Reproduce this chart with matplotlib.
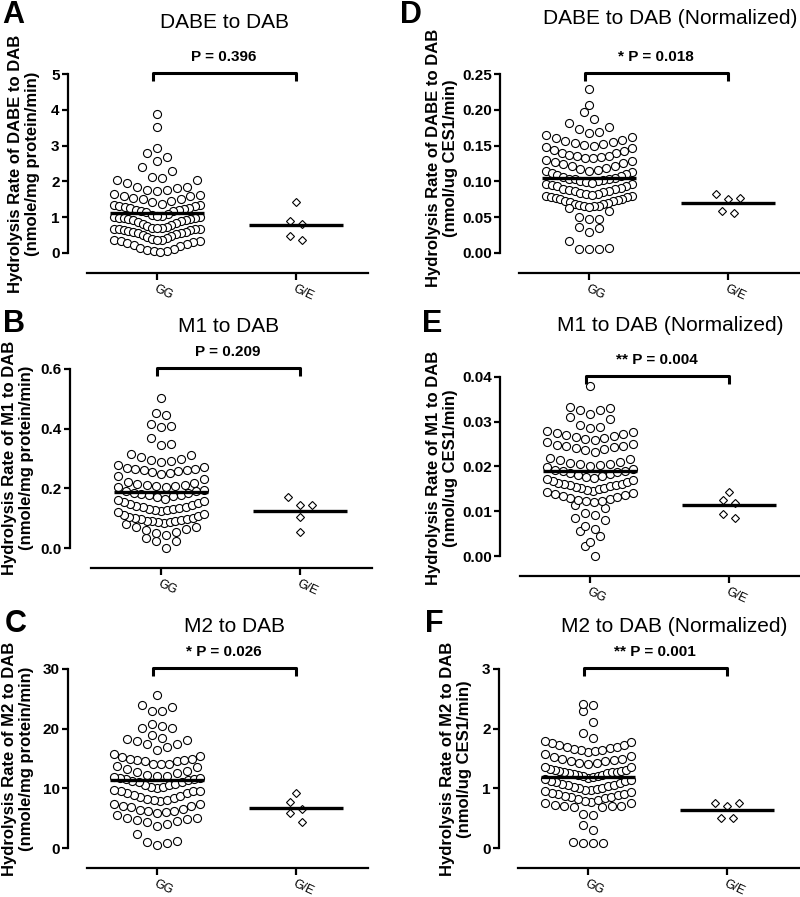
import numpy as np
import matplotlib
matplotlib.use("Agg")
import matplotlib.pyplot as plt

plt.rcParams['font.family'] = ['Liberation Sans', 'DejaVu Sans']

W, H = 800, 897
groups = ["GG", "G/E"]

# --- data ---
dabe_gg = [3.87, 3.52, 2.93, 2.79, 2.67, 2.58, 2.39, 2.29, 2.12, 2.10,
           2.04, 2.04, 1.96, 1.83, 1.83, 1.82, 1.77, 1.76, 1.72, 1.66, 1.63, 1.60, 1.58, 1.55, 1.52, 1.50,
           1.45, 1.42, 1.38, 1.34, 1.33, 1.32, 1.30, 1.28, 1.27, 1.25, 1.23, 1.21,
           1.19, 1.18, 1.16, 1.14, 1.10, 1.06, 1.04, 1.02, 1.01, 1.00, 0.99, 0.98, 0.97, 0.95, 0.95, 0.93, 0.91,
           0.88, 0.87, 0.85, 0.82, 0.78, 0.75, 0.72, 0.71, 0.70, 0.69, 0.68, 0.67, 0.66, 0.66, 0.65, 0.64, 0.62,
           0.59, 0.58, 0.57, 0.55, 0.52, 0.50, 0.48, 0.45, 0.42, 0.40, 0.37, 0.36, 0.35, 0.34, 0.33, 0.31,
           0.28, 0.26, 0.22, 0.19, 0.14, 0.10, 0.08, 0.06, 0.05, 0.03]
dabe_ge = [1.42, 0.88, 0.82, 0.48, 0.36]

m1_gg = [0.000, 0.022, 0.025, 0.035, 0.045,
         0.050, 0.055, 0.060, 0.065, 0.070, 0.072, 0.080,
         0.085, 0.086, 0.088, 0.089, 0.090, 0.092, 0.094, 0.096, 0.098, 0.100, 0.102, 0.105, 0.108, 0.110, 0.115, 0.120,
         0.125, 0.127, 0.129, 0.130, 0.132, 0.134, 0.136, 0.138, 0.140, 0.143, 0.146, 0.150, 0.153, 0.157, 0.162, 0.165,
         0.172, 0.175, 0.176, 0.178, 0.180, 0.183, 0.186, 0.190, 0.192, 0.195,
         0.203, 0.205, 0.207, 0.208, 0.210, 0.212, 0.214, 0.218, 0.222, 0.230,
         0.240, 0.248, 0.252, 0.256, 0.258, 0.260, 0.262, 0.264, 0.266, 0.268, 0.272, 0.278,
         0.288, 0.290, 0.295, 0.300, 0.305, 0.312, 0.315,
         0.345, 0.350, 0.370, 0.405, 0.408, 0.415, 0.447, 0.452, 0.502]
m1_ge = [0.172, 0.145, 0.145, 0.105, 0.052]

m2_gg = [0.5, 0.9, 1.0, 1.2, 2.3,
         3.7, 4.0, 4.3, 4.6, 4.7, 4.9, 5.0, 5.0, 5.6,
         5.8, 6.1, 6.2, 6.2, 6.4, 6.6, 6.9, 7.0, 7.1, 7.3, 7.4,
         7.8, 8.0, 8.0, 8.2, 8.3, 8.6, 8.7, 8.9, 9.2, 9.2, 9.5, 9.6, 9.6, 9.7,
         10.0, 10.2, 10.3, 10.5, 10.6, 10.8, 11.0, 11.1, 11.3, 11.4, 11.5, 11.6, 11.7, 11.8, 11.9, 12.0,
         12.0, 12.3, 12.5, 12.7, 12.9, 13.2, 13.5, 13.7, 14.0, 14.0, 14.1,
         14.6, 14.6, 14.8, 14.8, 14.9, 15.0, 15.3, 15.5, 15.8,
         16.5, 16.9, 17.4, 17.4, 18.0, 18.1, 18.2, 18.5,
         18.9, 20.1, 20.1, 20.5, 20.8,
         22.9, 23.0, 23.7, 24.0, 25.6]
m2_ge = [9.2, 7.7, 6.6, 5.9, 4.4]

dabe_norm_gg = [0.229, 0.207, 0.197, 0.187, 0.182, 0.176, 0.173,
                0.169, 0.167, 0.165, 0.162, 0.160,
                0.158, 0.156, 0.155, 0.153, 0.152, 0.151, 0.150, 0.148, 0.146, 0.144, 0.143,
                0.140, 0.139, 0.137, 0.136, 0.135, 0.134, 0.133, 0.132, 0.130, 0.128, 0.127, 0.126,
                0.124, 0.122, 0.121, 0.119, 0.118, 0.116, 0.115, 0.114, 0.113, 0.112, 0.110, 0.109,
                0.107, 0.106, 0.105, 0.104, 0.104, 0.103, 0.102, 0.101, 0.100, 0.099, 0.098, 0.097, 0.096, 0.095, 0.094, 0.093,
                0.091, 0.090, 0.089, 0.088, 0.087, 0.086, 0.085, 0.084, 0.083, 0.082, 0.081, 0.080, 0.079, 0.078,
                0.078, 0.077, 0.076, 0.075, 0.074, 0.073, 0.072, 0.071, 0.070, 0.069, 0.068, 0.067, 0.066, 0.066, 0.065, 0.064,
                0.063, 0.058, 0.050, 0.048, 0.047, 0.036, 0.035, 0.030, 0.017, 0.007, 0.006, 0.005, 0.005]
dabe_norm_ge = [0.0767, 0.0753, 0.0827, 0.0558, 0.0580]

m1_norm_gg = [0.0000, 0.0023, 0.0032, 0.0045, 0.0055, 0.0060, 0.0068, 0.0080, 0.0085, 0.0092, 0.0095, 0.0108, 0.0115,
              0.0120, 0.0122, 0.0124, 0.0126, 0.0128, 0.0130, 0.0132, 0.0134, 0.0136, 0.0139, 0.0141, 0.0144, 0.0146, 0.0148,
              0.0150, 0.0152, 0.0153, 0.0155, 0.0156, 0.0158, 0.0159, 0.0160, 0.0162, 0.0164, 0.0166, 0.0168, 0.0170, 0.0171,
              0.0175, 0.0177, 0.0179, 0.0181, 0.0183, 0.0185, 0.0187, 0.0189, 0.0191, 0.0193, 0.0195, 0.0198,
              0.0201, 0.0203, 0.0205, 0.0206, 0.0208, 0.0211, 0.0214, 0.0217, 0.0220,
              0.0232, 0.0236, 0.0240, 0.0242, 0.0244, 0.0245, 0.0246, 0.0248, 0.0250, 0.0255, 0.0260,
              0.0262, 0.0264, 0.0266, 0.0268, 0.0270, 0.0272, 0.0275, 0.0278, 0.0280, 0.0286, 0.0289,
              0.0293, 0.0306, 0.0310, 0.0318, 0.0326, 0.0327, 0.0330, 0.0334, 0.0381]
m1_norm_ge = [0.0144, 0.0125, 0.0118, 0.0094, 0.0084]

m2_norm_gg = [0.08, 0.08, 0.09, 0.10, 0.30, 0.39, 0.56, 0.57,
              0.68, 0.69, 0.70, 0.70, 0.71, 0.72, 0.75, 0.75, 0.77, 0.78,
              0.80, 0.82, 0.84, 0.85, 0.86, 0.87, 0.88, 0.90, 0.91, 0.93, 0.94, 0.95,
              0.97, 0.98, 0.99, 1.00, 1.01, 1.02, 1.04, 1.05, 1.06, 1.08, 1.09, 1.10, 1.12, 1.13, 1.14, 1.15,
              1.17, 1.19, 1.20, 1.21, 1.22, 1.23, 1.24, 1.25, 1.26, 1.27, 1.27, 1.28, 1.29, 1.29, 1.30, 1.31,
              1.32, 1.35, 1.36, 1.40, 1.42, 1.43, 1.45, 1.46, 1.48, 1.50, 1.50, 1.53, 1.55, 1.58,
              1.61, 1.62, 1.64, 1.65, 1.66, 1.67, 1.69, 1.70, 1.73, 1.73, 1.76, 1.78, 1.80,
              1.84, 1.93, 2.12, 2.29, 2.40, 2.42]
m2_norm_ge = [0.76, 0.75, 0.71, 0.50, 0.50]

titles = ["DABE to DAB", "M1 to DAB", "M2 to DAB",
          "DABE to DAB (Normalized)", "M1 to DAB (Normalized)", "M2 to DAB (Normalized)"]
ylabels = ["Hydrolysis Rate of DABE to DAB\n(nmole/mg protein/min)",
           "Hydrolysis Rate of M1 to DAB\n(nmole/mg protein/min)",
           "Hydrolysis Rate of M2 to DAB\n(nmole/mg protein/min)",
           "Hydrolysis Rate of DABE to DAB\n(nmol/ug CES1/min)",
           "Hydrolysis Rate of M1 to DAB\n(nmol/ug CES1/min)",
           "Hydrolysis Rate of M2 to DAB\n(nmol/ug CES1/min)"]
p_labels = ["P = 0.396", "P = 0.209", "* P = 0.026", "* P = 0.018", "** P = 0.004", "** P = 0.001"]
letters = ["A", "B", "C", "D", "E", "F"]
yticks = [[0, 1, 2, 3, 4, 5], [0.0, 0.2, 0.4, 0.6], [0, 10, 20, 30],
          [0.00, 0.05, 0.10, 0.15, 0.20, 0.25], [0.00, 0.01, 0.02, 0.03, 0.04], [0, 1, 2, 3]]
ytick_labels = [["0", "1", "2", "3", "4", "5"], ["0.0", "0.2", "0.4", "0.6"], ["0", "10", "20", "30"],
                ["0.00", "0.05", "0.10", "0.15", "0.20", "0.25"], ["0.00", "0.01", "0.02", "0.03", "0.04"],
                ["0", "1", "2", "3"]]
series = [(dabe_gg, dabe_ge), (m1_gg, m1_ge), (m2_gg, m2_ge),
          (dabe_norm_gg, dabe_norm_ge), (m1_norm_gg, m1_norm_ge), (m2_norm_gg, m2_norm_ge)]

# --- layout in pixels (top-left origin) ---
# gg tick x, y-value top, zero line, y-spine x, title centre, ylabel centre, letter baseline
layout = [
    dict(gg=157, top=74, zero=253, spine=68, title=(225, 22), ylab=(24, 164), letter=(2, 23)),
    dict(gg=161, top=369, zero=548, spine=70, title=(229, 327), ylab=(18, 458), letter=(3, 332)),
    dict(gg=157, top=669, zero=848, spine=68, title=(235, 627), ylab=(18, 759), letter=(5, 632)),
    dict(gg=589, top=74, zero=253, spine=500, title=(670, 18), ylab=(442, 158), letter=(400, 23)),
    dict(gg=590, top=377, zero=556, spine=500, title=(670, 325), ylab=(442, 468), letter=(422, 332)),
    dict(gg=588, top=669, zero=848, spine=499, title=(674, 627), ylab=(456, 759), letter=(425, 632)),
]
XS = 139.0          # px per category step
XL, XR = -0.505, 1.515


def swarm(vals, center, bin_h, step, max_half):
    """Prism-like row layout: bin values, spread each row, lowest in the middle."""
    vals = np.asarray(vals, float)
    order = list(np.argsort(vals, kind="stable"))
    xs = np.zeros(len(vals))
    rows, cur, start = [], [order[0]], vals[order[0]]
    for k in order[1:]:
        if vals[k] - start < bin_h:
            cur.append(k)
        else:
            rows.append(cur)
            cur, start = [k], vals[k]
    rows.append(cur)
    for r in rows:
        n = len(r)
        sp = step if n < 2 else min(step, 2 * max_half / (n - 1))
        offs = (np.arange(n) - (n - 1) / 2) * sp
        slots = sorted(range(n), key=lambda j: (round(abs(offs[j]), 6), -offs[j]))
        for k, j in zip(r, slots):
            xs[k] = center + offs[j]
    return xs


fig = plt.figure(figsize=(W / 100, H / 100), dpi=100)

for i in range(6):
    L = layout[i]
    gg, ge = series[i]
    ticks = yticks[i]
    ymax = ticks[-1]
    span = L["zero"] - L["top"]
    upx = ymax / span                       # data units per px (y)
    left = L["gg"] + XL * XS
    right = L["gg"] + XR * XS
    bottom = L["zero"] + 20
    ax = fig.add_axes([left / W, 1 - bottom / H, (right - left) / W, (bottom - L["top"]) / H])
    ax.set_xlim(XL, XR)
    ax.set_ylim(-20 * upx, ymax)

    for s in ("top", "right"):
        ax.spines[s].set_visible(False)
    ax.spines["left"].set_position(("outward", (left - L["spine"]) * 0.72))
    ax.spines["left"].set_bounds(0, ymax)
    for s in ("left", "bottom"):
        ax.spines[s].set_linewidth(1.6)

    ax.set_yticks(ticks)
    ax.set_yticklabels(ytick_labels[i], fontsize=11, fontweight="bold")
    ax.set_xticks([0, 1])
    ax.set_xticklabels(groups, fontsize=9, rotation=-25, ha="left", rotation_mode="anchor")
    ax.tick_params(axis="y", length=4, width=1.6, pad=2)
    ax.tick_params(axis="x", length=5, width=1.6, pad=2)

    bin_h = 11.5 * upx
    xg = swarm(gg, 0, bin_h, 10 / XS, 43 / XS)
    ax.plot(xg, gg, "o", ms=5.8, mfc="white", mec="black", mew=0.8, clip_on=False, zorder=2)
    xe = swarm(ge, 1, bin_h, 12 / XS, 43 / XS)
    ax.plot(xe, ge, "D", ms=4.3, mfc="white", mec="black", mew=0.8, clip_on=False, zorder=2)

    for c, v in enumerate((gg, ge)):
        ax.hlines(np.mean(v), c - 0.337, c + 0.337, color="black", lw=2.4, zorder=3)

    # significance bracket
    yb = ymax + 1 * upx
    ax.plot([-0.03, -0.03, 1.0, 1.0], [yb - 8 * upx, yb, yb, yb - 8 * upx],
            color="black", lw=2.2, clip_on=False, solid_capstyle="butt")
    ax.text(0.48, yb + 16 * upx, p_labels[i], ha="center", va="center",
            fontsize=11, fontweight="bold")

    fig.text(L["title"][0] / W, 1 - L["title"][1] / H, titles[i], ha="center", va="center", fontsize=15)
    fig.text(L["ylab"][0] / W, 1 - L["ylab"][1] / H, ylabels[i], ha="center", va="center",
             rotation=90, fontsize=12, fontweight="bold", linespacing=1.1, multialignment="center")
    fig.text(L["letter"][0] / W, 1 - L["letter"][1] / H, letters[i], ha="left", va="baseline",
             fontsize=22, fontweight="bold")

fig.savefig("out.png", dpi=100)
